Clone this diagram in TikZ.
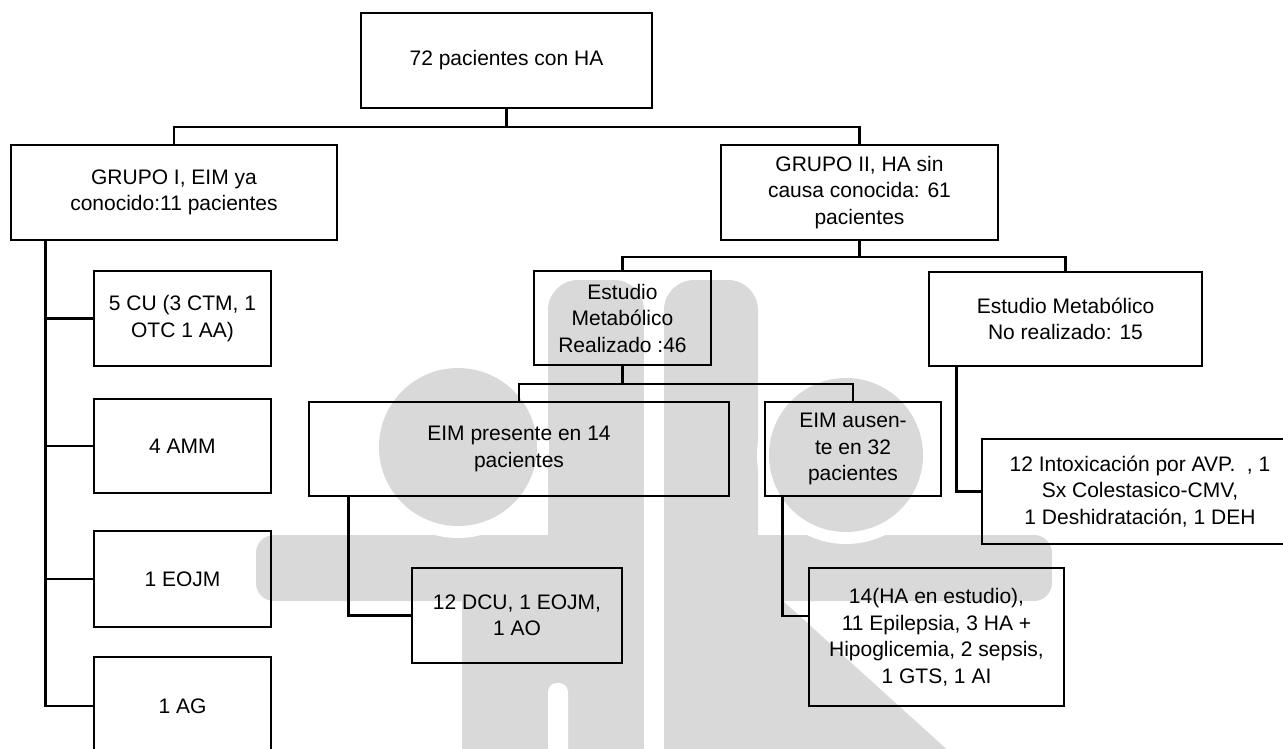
\documentclass[tikz,border=0pt]{standalone}
\usepackage{fontspec}
\setmainfont{Liberation Sans}
\usepackage{tikz}
\usetikzlibrary{positioning, calc}
\definecolor{wmgray}{RGB}{217,217,217}

\begin{document}
\begin{tikzpicture}[
  x=1pt, y=-1pt,
  box/.style={draw, line width=2.8pt, align=center, inner sep=0pt,
    font=\fontsize{21}{26.5}\selectfont},
  link/.style={line width=2.8pt},
  wm/.style={fill=wmgray}
]
  \useasboundingbox (0,0) rectangle (1283,748);

  % watermark in the background
  \fill[wm, rounded corners=18pt] (256,535) rectangle (1052,601);
  \fill[wm, rounded corners=30pt] (548,280) rectangle (644,570);
  \fill[wm, rounded corners=30pt] (664,280) rectangle (758,570);
  \fill[wm] (462,590) rectangle (644,760);
  \fill[wm] (664,590) -- (771,590) -- (953,755) -- (664,755) -- cycle;
  \fill[white, rounded corners=9pt] (548,683) rectangle (568,775);
  \fill[white] (644,275) rectangle (664,760);
  \fill[white] (458,447) circle (91);
  \fill[wm] (458,447) circle (79);
  \fill[white] (846,455) circle (89);
  \fill[wm] (846,455) circle (77);

  % boxes
  \node[box, minimum width=291pt, minimum height=95pt] (root) at (506.5,60.5)
    {72 pacientes con HA};
  \node[box, minimum width=326pt, minimum height=95pt] (gI) at (174,192.5)
    {GRUPO I, EIM ya\\conocido:11 pacientes};
  \node[box, minimum width=277pt, minimum height=95pt] (gII) at (859.5,192.5)
    {GRUPO II, HA sin\\causa conocida: 61\\pacientes};

  \node[box, minimum width=177pt, minimum height=95pt] (cu) at (182.5,318.5)
    {5 CU (3 CTM, 1\\OTC 1 AA)};
  \node[box, minimum width=177pt, minimum height=94pt] (amm) at (182.5,446)
    {4 AMM};
  \node[box, minimum width=177pt, minimum height=96pt] (eojm) at (182.5,579)
    {1 EOJM};
  \node[box, minimum width=177pt, minimum height=98pt] (ag) at (182.5,706)
    {1 AG};

  \node[box, minimum width=177pt, minimum height=94pt] (real) at (622.5,318)
    {Estudio\\Metabólico\\Realizado :46};
  \node[box, minimum width=273pt, minimum height=94pt] (noreal) at (1065.5,319)
    {Estudio Metabólico\\No realizado: 15};

  \node[box, minimum width=420pt, minimum height=94pt] (pres) at (519,449)
    {EIM presente en 14\\pacientes};
  \node[box, minimum width=176pt, minimum height=94pt] (aus) at (853,449)
    {EIM ausen-\\te en 32\\pacientes};

  \node[box, minimum width=210pt, minimum height=95pt] (dcu) at (517,615.5)
    {12 DCU, 1 EOJM,\\1 AO};
  \node[box, minimum width=255pt, minimum height=138pt] (hae) at (936.5,637)
    {14(HA en estudio),\\11 Epilepsia, 3 HA +\\Hipoglicemia, 2 sepsis,\\1 GTS, 1 AI};
  \node[box, minimum width=316pt, minimum height=105pt] (intox) at (1140,491.5)
    {12 Intoxicación por AVP.~~, 1\\Sx Colestasico-CMV,\\1 Deshidratación, 1 DEH};

  % connectors
  \coordinate (j0) at (506.5,127);
  \coordinate (j1) at (859.5,257);
  \coordinate (j2) at (622.5,384);

  \draw[link] (root) -- (j0);
  \draw[link] (gI.north) |- (j0) -| (gII.north);
  \draw[link] (gII) -- (j1);
  \draw[link] (real.north) |- (j1) -| (noreal.north);
  \draw[link] (real) -- (j2);
  \draw[link] (pres.north) |- (j2) -| (aus.north);

  \foreach \n in {cu, amm, eojm, ag}
    \draw[link] ([xshift=36pt]gI.south west) |- (\n.west);

  \draw[link] ([xshift=41pt]pres.south west) |- (dcu.west);
  \draw[link] ([xshift=19pt]aus.south west) |- ([yshift=21pt]hae.west);
  \draw[link] ([xshift=29pt]noreal.south west) |- (intox.west);
\end{tikzpicture}
\end{document}
